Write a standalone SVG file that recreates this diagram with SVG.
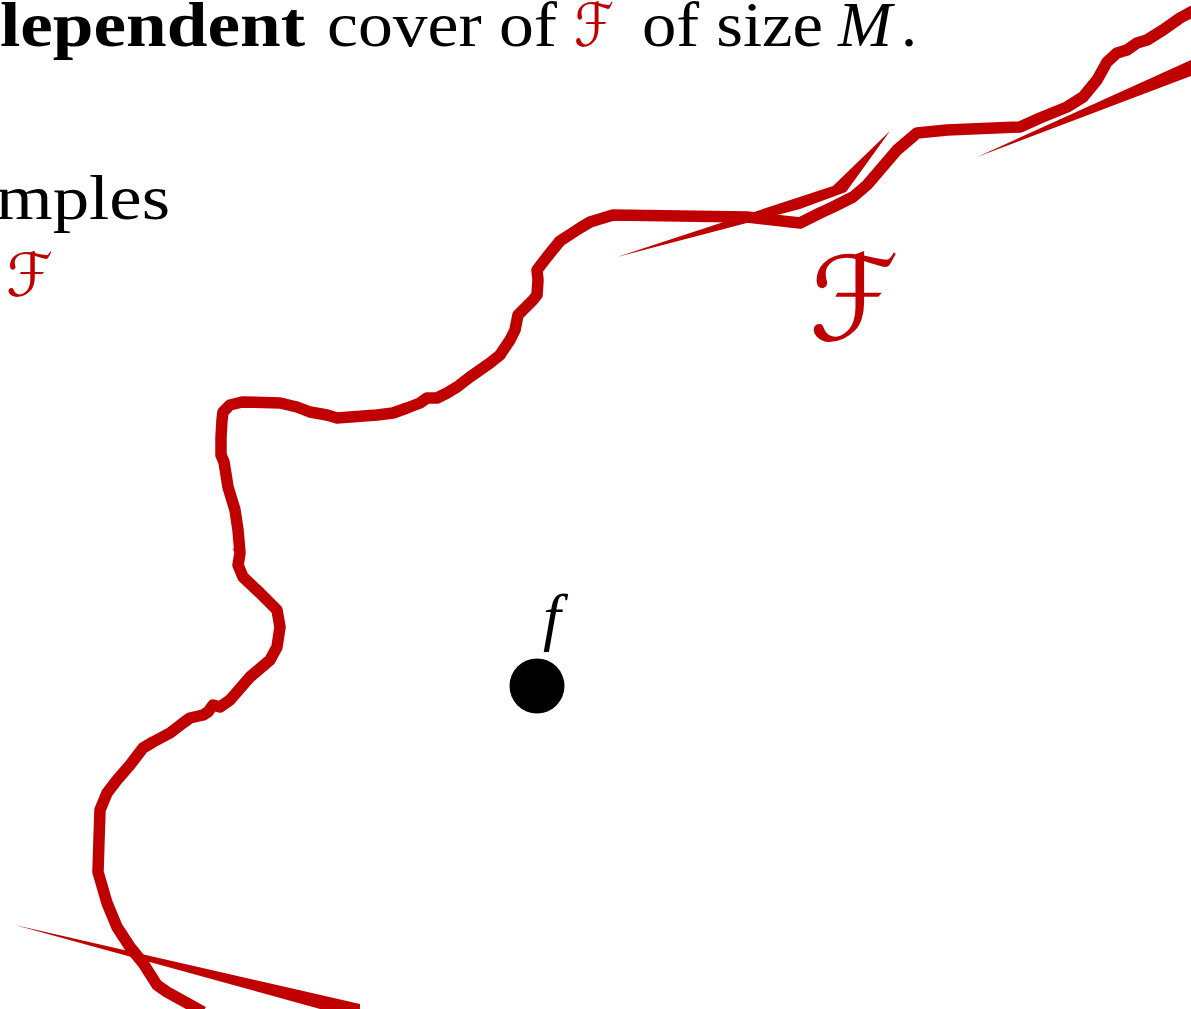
<svg xmlns="http://www.w3.org/2000/svg" width="1191" height="1009" viewBox="0 0 1191 1009">
<style>
.t{font-family:"Liberation Serif","DejaVu Serif",serif;font-size:64px;fill:#000}
.cal{font-family:"DejaVu Serif","DejaVu Sans",serif;font-style:italic;fill:#c00000}
.curve{fill:none;stroke:#c00000;stroke-width:11.5;stroke-linejoin:round;stroke-linecap:butt}
.spike{fill:#c00000;stroke:none}
</style>
<rect width="1191" height="1009" fill="#fff"/>
<g id="caption">
<text class="t" x="0" y="46" font-weight="bold" textLength="305" lengthAdjust="spacingAndGlyphs">lependent</text>
<text class="t" x="327" y="46" textLength="230" lengthAdjust="spacingAndGlyphs">cover of</text>
<text class="cal" x="574" y="46" font-size="60" textLength="40" lengthAdjust="spacingAndGlyphs">ℱ</text>
<text class="t" x="642" y="46" textLength="181" lengthAdjust="spacingAndGlyphs">of size</text>
<text class="t" x="838" y="46" font-style="italic" textLength="54" lengthAdjust="spacingAndGlyphs">M</text>
<text class="t" x="901" y="46">.</text>
<text class="t" x="-4" y="219" textLength="174" lengthAdjust="spacingAndGlyphs">mples</text>
<text class="cal" x="6" y="296" font-size="60" textLength="47" lengthAdjust="spacingAndGlyphs">ℱ</text>
</g>
<g id="region-F">
<text class="cal" x="809" y="340" font-size="118" textLength="90" lengthAdjust="spacingAndGlyphs">ℱ</text>
</g>
<g id="connectors">
<polyline class="curve" points="203,1012 187,1003 167,992 157,985 143,963 130,947 117,927 107,903 98,872 99,840 100,810 107,793 117,780 130,765 143,748 153,742 170,733 183,723 190,718 203,715 208,712 213,705 220,707 230,700 250,677 270,660 277,647 280,627 277,610 260,593 243,577 238,565 240,553 238,530 235,510 228,487 224,462 221,455 221,437 222,420 223,412 230,405 242,402 280,403 297,407 310,412 327,415 337,418 377,415 393,413 407,408 420,403 427,398 437,398 447,393 457,387 470,377 490,363 500,355 510,340 515,330 518,315 533,300 537,295 538,280 537,270 547,257 560,241 580,228 590,222 613,215 747,217 800,223 810,218 820,213 833,207 853,197 867,185 897,150 917,133 947,130 1020,127 1040,118 1067,107 1083,97 1097,80 1107,62 1117,53 1127,50 1137,43 1147,40 1163,30 1180,18 1195,10"/>
<polygon class="spike" points="236,551 232,548 240,560"/>
<polygon class="spike" points="15,925 360,1004 360,1020"/>
<polygon class="spike" points="617,257 833,186 890,131 846,192 800,209"/>
<polygon class="spike" points="977,157 1191,60 1191,76"/>
</g>
<g id="node-f">
<circle cx="537" cy="686" r="27.5" fill="#000"/>
<text class="t" x="543" y="638" font-style="italic" font-size="74">f</text>
</g>
</svg>
